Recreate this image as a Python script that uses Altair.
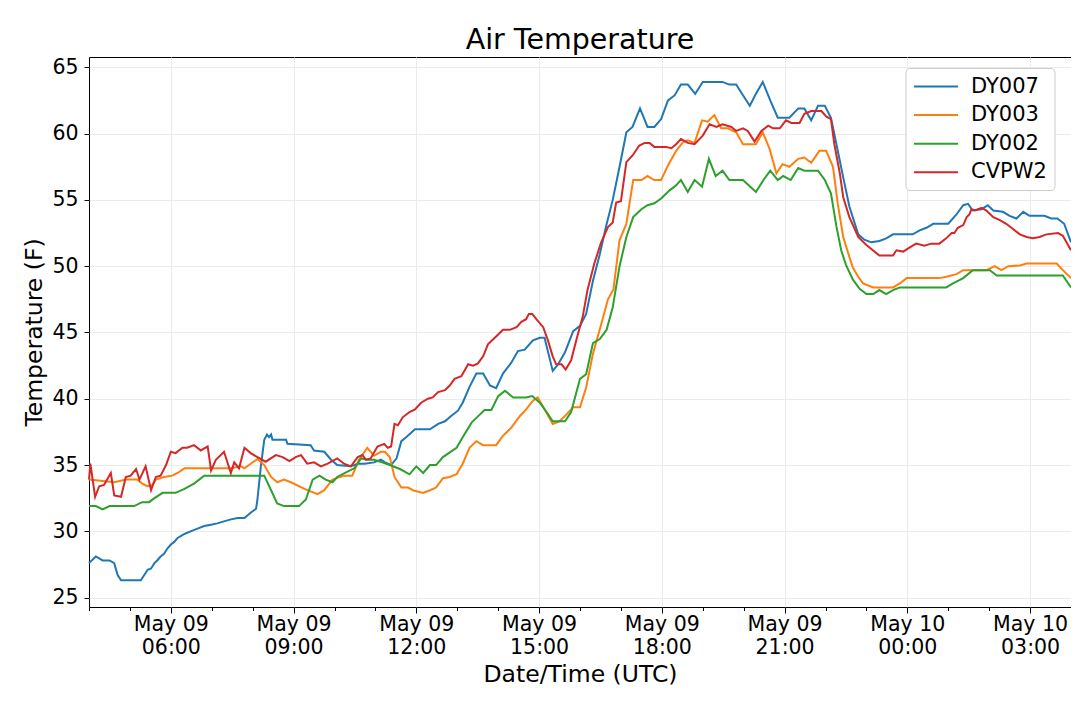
import altair as alt
import pandas as pd

BASE = pd.Timestamp("2019-05-09 04:00:00")  # UTC

stations = ["DY007", "DY003", "DY002", "CVPW2"]
colors = ["#1f77b4", "#ff7f0e", "#2ca02c", "#d62728"]

# minutes after 2019-05-09 04:00 UTC, and temperature (F)
dy007_t = [0, 10, 20, 30, 37, 42, 47, 76, 81, 86, 91, 96, 100, 105, 110, 115, 120, 125, 130, 140,
           149, 159, 169, 179, 188, 198, 208, 218, 228, 237, 245, 247, 252, 257, 261, 264, 267, 269,
           289, 291, 325, 330, 345, 355, 364, 384, 394, 404, 418, 428, 434, 443, 451, 458, 465, 478,
           500, 512, 522, 531, 541, 548, 558, 568, 578, 588, 597, 607, 619, 629, 639, 651, 661, 668,
           680, 688, 698, 710, 720, 729, 739, 749, 758, 768, 778, 788, 797, 808, 819, 829, 839, 849,
           859, 868, 878, 889, 900, 929, 939, 949, 959, 969, 978, 988, 999, 1010, 1027, 1040, 1049,
           1059, 1069, 1079, 1088, 1096, 1106, 1115, 1128, 1137, 1147, 1159, 1169, 1179, 1208, 1218,
           1228, 1238, 1260, 1272, 1282, 1289, 1296, 1309, 1318, 1326, 1340, 1350, 1360, 1370, 1379,
           1401, 1411, 1420, 1430, 1440]
dy007_v = [27.6, 28.1, 27.8, 27.8, 27.6, 26.7, 26.3, 26.3, 26.7, 27.1, 27.2, 27.6, 27.8, 28.1, 28.3,
           28.7, 29.0, 29.2, 29.5, 29.8, 30.0, 30.2, 30.4, 30.5, 30.6, 30.75, 30.9, 31.0, 31.0, 31.4,
           31.7, 32.4, 34.9, 36.9, 37.3, 37.1, 37.3, 36.9, 36.9, 36.6, 36.5, 36.1, 36.0, 35.4, 35.0,
           34.9, 35.1, 35.1, 35.2, 35.4, 35.2, 35.0, 35.5, 36.8, 37.1, 37.7, 37.7, 38.1, 38.3, 38.7,
           39.1, 39.7, 40.9, 41.9, 41.9, 41.0, 40.8, 41.9, 42.7, 43.6, 43.7, 44.4, 44.6, 44.6, 42.1,
           42.6, 43.5, 45.1, 45.5, 46.4, 48.9, 50.9, 52.95, 55.0, 57.5, 60.1, 60.5, 61.9, 60.5, 60.5,
           61.1, 62.5, 62.9, 63.7, 63.7, 63.0, 63.9, 63.9, 63.7, 63.7, 62.9, 62.1, 63.0, 63.9, 62.5,
           61.2, 61.2, 61.9, 61.9, 61.0, 62.1, 62.1, 61.2, 59.2, 56.7, 54.5, 52.4, 52.0, 51.8, 51.9,
           52.1, 52.4, 52.4, 52.7, 52.9, 53.2, 53.2, 53.9, 54.6, 54.7, 54.2, 54.3, 54.6, 54.2, 54.1,
           53.8, 53.6, 54.1, 53.8, 53.8, 53.6, 53.6, 53.2, 51.8]

dy003_t = [0, 37, 54, 71, 78, 86, 93, 98, 110, 122, 130, 140, 179, 208, 223, 228, 237, 247, 257, 267,
           276, 286, 296, 316, 335, 345, 357, 374, 386, 396, 408, 418, 428, 434, 441, 448, 458, 468,
           475, 490, 500, 509, 519, 529, 539, 548, 558, 568, 578, 597, 607, 619, 632, 641, 651, 658,
           668, 680, 690, 700, 710, 720, 729, 739, 751, 761, 769, 778, 788, 798, 810, 819, 829, 839,
           849, 861, 871, 878, 888, 899, 907, 917, 927, 937, 949, 959, 978, 988, 998, 1008, 1017,
           1027, 1040, 1049, 1059, 1071, 1081, 1091, 1098, 1106, 1115, 1120, 1128, 1135, 1150, 1179,
           1189, 1199, 1247, 1257, 1272, 1282, 1316, 1328, 1338, 1348, 1365, 1375, 1419, 1428, 1440]
dy003_v = [33.9, 33.7, 33.9, 33.9, 33.6, 33.4, 33.5, 33.9, 34.1, 34.2, 34.4, 34.75, 34.75, 34.75,
           34.9, 34.75, 35.1, 35.45, 35.0, 34.1, 33.7, 33.9, 33.7, 33.2, 32.8, 33.1, 33.9, 34.2, 34.2,
           35.4, 36.3, 35.7, 36.0, 36.0, 35.6, 34.1, 33.3, 33.3, 33.1, 32.9, 33.1, 33.3, 34.0, 34.1,
           34.3, 35.1, 36.3, 36.8, 36.5, 36.5, 37.2, 37.8, 38.7, 39.2, 39.85, 40.1, 39.2, 38.1, 38.3,
           38.8, 39.35, 39.35, 40.85, 43.4, 45.6, 47.5, 48.25, 51.95, 53.2, 56.5, 56.5, 56.8, 56.5,
           56.5, 57.6, 58.7, 59.35, 59.5, 59.3, 61.0, 60.9, 61.4, 60.4, 60.4, 60.1, 59.2, 59.2, 60.1,
           58.85, 57.0, 57.7, 57.5, 58.1, 58.2, 57.8, 58.7, 58.7, 57.5, 54.7, 52.2, 50.7, 49.9, 49.2,
           48.7, 48.4, 48.4, 48.7, 49.1, 49.1, 49.2, 49.4, 49.7, 49.7, 50.0, 49.7, 50.0, 50.05, 50.2,
           50.2, 49.7, 49.1]

dy002_t = [0, 10, 20, 30, 66, 78, 88, 96, 108, 127, 140, 154, 169, 257, 267, 276, 286, 308, 318, 328,
           338, 347, 357, 364, 379, 389, 399, 408, 418, 430, 441, 456, 470, 480, 490, 500, 509, 519,
           539, 548, 561, 570, 580, 590, 600, 610, 622, 641, 650, 661, 671, 680, 698, 707, 720, 729,
           739, 749, 759, 768, 778, 788, 798, 810, 819, 829, 839, 851, 861, 868, 878, 888, 899, 909,
           919, 929, 939, 959, 978, 989, 999, 1010, 1018, 1029, 1040, 1049, 1069, 1079, 1088, 1096,
           1103, 1110, 1120, 1130, 1140, 1150, 1159, 1169, 1179, 1189, 1257, 1267, 1282, 1296, 1321,
           1331, 1428, 1440]
dy002_v = [31.9, 31.9, 31.65, 31.9, 31.9, 32.2, 32.2, 32.5, 32.9, 32.9, 33.2, 33.6, 34.2, 34.2, 33.1,
           32.1, 31.9, 31.9, 32.4, 33.9, 34.2, 33.9, 33.7, 34.1, 34.5, 34.75, 35.5, 35.4, 35.4, 35.2,
           35.0, 34.7, 34.3, 34.9, 34.4, 35.0, 35.0, 35.6, 36.3, 37.1, 38.2, 38.65, 39.15, 39.15,
           40.2, 40.6, 40.1, 40.1, 40.2, 39.7, 39.0, 38.3, 38.3, 39.0, 41.5, 41.85, 44.2, 44.5, 45.2,
           46.9, 50.0, 52.2, 53.7, 54.3, 54.6, 54.75, 55.1, 55.7, 56.1, 56.5, 55.6, 56.5, 56.0, 58.1,
           56.8, 57.2, 56.5, 56.5, 55.6, 56.5, 57.2, 56.5, 56.8, 56.5, 57.4, 57.2, 57.2, 56.5, 55.5,
           53.0, 51.2, 50.1, 49.0, 48.3, 47.9, 47.9, 48.2, 47.9, 48.2, 48.4, 48.4, 48.7, 49.1, 49.7,
           49.7, 49.3, 49.3, 48.4]

cvpw2_t = [0, 2, 9, 15, 22, 32, 37, 47, 54, 61, 69, 74, 83, 91, 98, 105, 113, 120, 127, 137, 144,
           154, 164, 174, 179, 186, 198, 208, 213, 220, 228, 237, 247, 259, 274, 284, 294, 303, 311,
           320, 330, 340, 350, 364, 374, 384, 394, 401, 406, 413, 423, 433, 438, 443, 448, 453, 460,
           470, 478, 487, 497, 504, 512, 522, 529, 536, 546, 556, 563, 570, 578, 585, 597, 607, 617,
           627, 634, 641, 645, 650, 656, 666, 673, 680, 685, 693, 699, 707, 715, 724, 731, 741, 751,
           761, 768, 773, 780, 788, 797, 807, 815, 822, 829, 846, 854, 861, 868, 878, 888, 900, 910,
           920, 929, 942, 949, 959, 966, 976, 986, 996, 1003, 1013, 1022, 1030, 1042, 1049, 1059,
           1074, 1081, 1088, 1093, 1101, 1106, 1115, 1128, 1140, 1159, 1179, 1184, 1194, 1203, 1213,
           1225, 1235, 1247, 1257, 1265, 1269, 1274, 1282, 1287, 1291, 1294, 1299, 1309, 1316, 1326,
           1335, 1345, 1355, 1365, 1375, 1384, 1394, 1404, 1421, 1428, 1440]
cvpw2_v = [33.9, 35.1, 32.6, 33.4, 33.5, 34.4, 32.7, 32.6, 34.1, 34.2, 34.7, 33.9, 34.9, 33.1, 34.1,
           34.2, 35.0, 36.0, 35.9, 36.3, 36.3, 36.5, 36.1, 36.4, 34.6, 35.4, 36.0, 34.4, 35.2, 34.75,
           36.3, 35.9, 35.6, 35.25, 35.75, 35.6, 35.3, 35.6, 35.75, 35.1, 35.2, 34.9, 35.1, 35.5,
           35.1, 34.9, 35.6, 35.75, 35.4, 35.5, 36.4, 36.6, 36.3, 36.4, 38.1, 38.0, 38.6, 39.0, 39.2,
           39.7, 40.0, 40.1, 40.5, 40.65, 41.0, 41.5, 41.7, 42.6, 42.5, 42.65, 43.2, 44.1, 44.7, 45.2,
           45.2, 45.4, 45.8, 46.0, 46.4, 46.4, 46.0, 45.4, 44.4, 43.2, 42.6, 42.6, 42.2, 42.9, 44.5,
           46.2, 48.2, 50.2, 51.8, 52.95, 53.3, 54.8, 54.9, 57.85, 58.35, 59.1, 59.3, 59.3, 59.0,
           59.0, 58.9, 59.2, 59.6, 59.3, 59.2, 59.85, 60.7, 60.5, 60.7, 60.5, 60.2, 60.4, 60.2, 59.4,
           60.2, 60.6, 60.4, 60.4, 61.0, 60.8, 60.8, 61.5, 61.7, 61.7, 61.3, 61.1, 59.2, 57.0, 55.2,
           53.7, 52.2, 51.6, 50.8, 50.8, 51.2, 51.1, 51.4, 51.7, 51.55, 51.7, 51.7, 52.1, 52.5, 52.5,
           52.9, 53.1, 53.7, 53.9, 54.3, 54.2, 54.4, 54.2, 53.7, 53.5, 53.2, 52.8, 52.4, 52.2, 52.1,
           52.2, 52.4, 52.5, 52.3, 51.2]

series = {
    "DY007": (dy007_t, dy007_v),
    "DY003": (dy003_t, dy003_v),
    "DY002": (dy002_t, dy002_v),
    "CVPW2": (cvpw2_t, cvpw2_v),
}

rows = []
for name in stations:
    ts, vs = series[name]
    for t, v in zip(ts, vs):
        stamp = (BASE + pd.Timedelta(minutes=t)).strftime("%Y-%m-%dT%H:%M:%SZ")
        rows.append({"time": stamp, "temp": v, "station": name})
df = pd.DataFrame(rows)


def ms(minutes):
    return int((BASE + pd.Timedelta(minutes=minutes)).value // 10**6)


hour_ticks = [ms(60 * h) for h in range(25)]
y_ticks = [25, 30, 35, 40, 45, 50, 55, 60, 65]
major = "utchours(datum.value) % 3 == 0"

x_axis = alt.Axis(
    values=hour_ticks,
    labelExpr=f"{major} ? [utcFormat(datum.value, '%b %d'), utcFormat(datum.value, '%H:%M')] : ''",
    labelFontSize=20.5,
    labelLineHeight=23.5,
    labelColor="black",
    labelPadding=1,
    labelOverlap=False,
    labelFlush=False,
    labelBound=False,
    tickColor="black",
    tickSize={"condition": {"test": major, "value": 6}, "value": 3.5},
    grid=True,
    gridColor="#ebebeb",
    gridOpacity={"condition": {"test": major, "value": 1}, "value": 0},
    domain=False,
    title="Date/Time (UTC)",
    titleFontSize=23.5,
    titleFontWeight="normal",
    titleColor="black",
    titlePadding=4,
)

y_axis = alt.Axis(
    values=y_ticks,
    labelFontSize=20.5,
    labelColor="black",
    labelPadding=6,
    tickColor="black",
    tickSize=5,
    grid=True,
    gridColor="#ebebeb",
    domain=False,
    title="Temperature (F)",
    titleFontSize=23.5,
    titleFontWeight="normal",
    titleColor="black",
    titlePadding=5,
)

legend = alt.Legend(
    title=None,
    orient="none",
    legendX=816.5,
    legendY=11,
    strokeColor="#cccccc",
    fillColor="white",
    cornerRadius=4,
    padding=7.5,
    labelFontSize=21,
    labelColor="black",
    symbolType="M-1,0H3.4",
    symbolSize=400,
    symbolStrokeWidth=2,
    rowPadding=7.6,
    labelOffset=36,
)

chart = (
    alt.Chart(df)
    .mark_line(strokeWidth=2)
    .encode(
        x=alt.X("time:T", scale=alt.Scale(type="utc", domain=[ms(0), ms(1440)]), axis=x_axis),
        y=alt.Y("temp:Q", scale=alt.Scale(domain=[24.29, 65.78], nice=False, zero=False), axis=y_axis),
        color=alt.Color("station:N", scale=alt.Scale(domain=stations, range=colors), legend=legend),
    )
    .properties(
        width=982,
        height=550,
        autosize=alt.AutoSizeParams(type="none"),
        padding={"left": 81, "top": 49, "right": 0, "bottom": 88},
        title=alt.TitleParams("Air Temperature", fontSize=28.5, fontWeight="normal", color="black",
                              anchor="middle", offset=3),
    )
    .configure(font="DejaVu Sans")
    .configure_view(stroke="black", strokeWidth=1)
)

chart.save("out.html", embed_options={"renderer": "svg", "actions": False})
